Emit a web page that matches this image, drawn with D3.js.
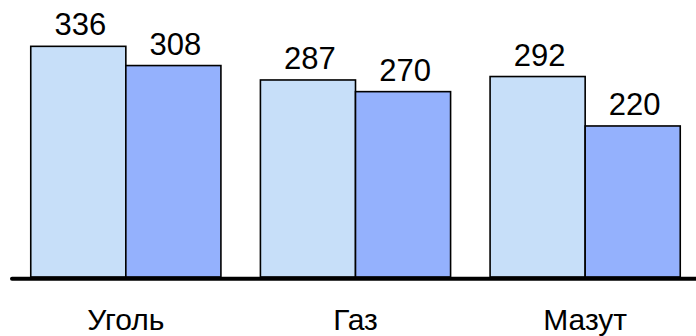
<!DOCTYPE html>
<html>
<head>
<meta charset="utf-8">
<script src="https://cdn.jsdelivr.net/npm/d3@7"></script>
<style>
  html, body { margin: 0; padding: 0; background: #fff; }
  svg { display: block; }
</style>
</head>
<body>
<svg id="chart" width="696" height="336"></svg>
<script>
// Fuel types and the two compared series
const categories = ["Уголь", "Газ", "Мазут"];
const seriesA = [336, 287, 292];
const seriesB = [308, 270, 220];
const seriesColors = ["#c7dff9", "#94b1fd"];

const W = 696, H = 336;
const baseY = 277;

const svg = d3.select("#chart");

const x0 = d3.scaleBand()
  .domain(categories)
  .range([11, 700])
  .paddingInner(0.172)
  .paddingOuter(0.086);

const x1 = d3.scaleBand()
  .domain([0, 1])
  .range([0, x0.bandwidth()]);

const y = d3.scaleLinear()
  .domain([0, 400])
  .range([baseY, baseY - 274.6]);

const rows = categories.map((c, i) => ({ cat: c, vals: [seriesA[i], seriesB[i]] }));

const groups = svg.selectAll("g.grp")
  .data(rows)
  .join("g")
  .attr("class", "grp")
  .attr("transform", d => `translate(${x0(d.cat)},0)`);

groups.selectAll("rect")
  .data(d => d.vals.map((v, s) => ({ v, s })))
  .join("rect")
  .attr("x", d => x1(d.s))
  .attr("y", d => y(d.v))
  .attr("width", x1.bandwidth())
  .attr("height", d => y(0) - y(d.v))
  .attr("fill", d => seriesColors[d.s])
  .attr("stroke", "#000")
  .attr("stroke-width", 1.6);

groups.selectAll("text.val")
  .data(d => d.vals.map((v, s) => ({ v, s })))
  .join("text")
  .attr("class", "val")
  .attr("x", d => x1(d.s) + x1.bandwidth() / 2 + 2)
  .attr("y", d => y(d.v) - 11)
  .attr("text-anchor", "middle")
  .attr("font-family", "Liberation Sans, Arial, sans-serif")
  .attr("font-size", 31)
  .attr("fill", "#000")
  .text(d => d.v);

// Baseline axis
svg.append("line")
  .attr("x1", 12)
  .attr("x2", W + 4)
  .attr("y1", baseY + 1.7)
  .attr("y2", baseY + 1.7)
  .attr("stroke", "#000")
  .attr("stroke-width", 4)
  .attr("stroke-linecap", "round");

// Category labels
const xAxis = d3.axisBottom(x0).tickSize(0).tickPadding(0);
const ax = svg.append("g")
  .attr("transform", `translate(0,${baseY})`)
  .call(xAxis);
ax.select(".domain").remove();
ax.selectAll("text")
  .attr("dy", 0)
  .attr("y", 53)
  .attr("font-family", "Liberation Sans, Arial, sans-serif")
  .attr("font-size", 30)
  .attr("fill", "#000");
</script>
</body>
</html>
